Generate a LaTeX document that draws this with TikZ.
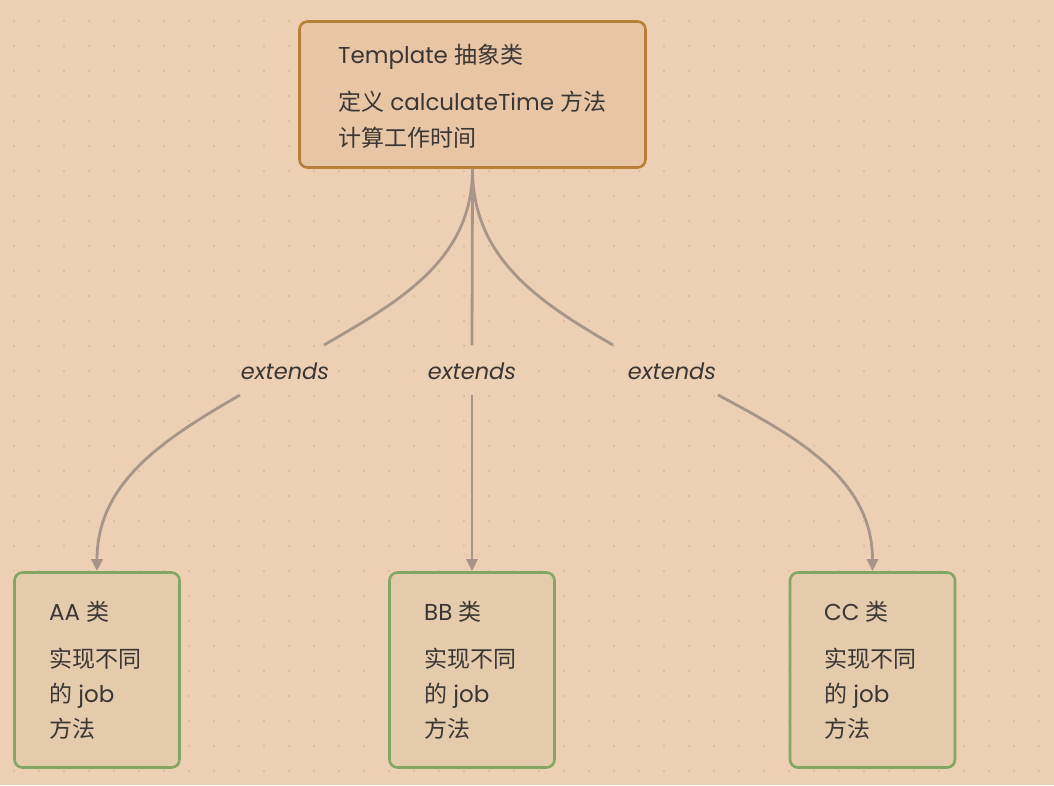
\documentclass[tikz,border=0pt]{standalone}
\usepackage{fontspec}
\setmainfont{Noto Sans CJK SC}
\newfontfamily\lat{Poppins}
\usetikzlibrary{arrows.meta}
\definecolor{bg}{HTML}{EDCFB3}
\definecolor{dotc}{HTML}{DDBDA2}
\definecolor{topfill}{HTML}{E8C5A5}
\definecolor{topdraw}{HTML}{B7803A}
\definecolor{botfill}{HTML}{E3CBAB}
\definecolor{botdraw}{HTML}{83A664}
\definecolor{linec}{HTML}{A8958A}
\definecolor{txt}{HTML}{3A3634}
\tikzset{
  topbox/.style={draw=topdraw, fill=topfill, line width=2.6pt, rounded corners=8pt, inner sep=0pt},
  botbox/.style={draw=botdraw, fill=botfill, line width=2.6pt, rounded corners=8pt, inner sep=0pt},
  txtline/.style={anchor=base west, inner sep=0pt, text=txt, font=\fontsize{23}{27}\selectfont},
  extlabel/.style={inner sep=0pt, text=txt, font=\lat\itshape\fontsize{22.5}{26}\selectfont},
  conn/.style={draw=linec, line width=2.8pt},
  arr/.style={conn, -{Triangle[length=12pt,width=11pt]}},
}
\begin{document}
\begin{tikzpicture}[x=1pt,y=-1pt]
\fill[bg] (0,0) rectangle (1054,785);
\useasboundingbox (0,0) rectangle (1054,785);
\foreach \i in {0,...,41}{
  \foreach \j in {0,...,30}{
    \fill[dotc] ({14+25*\i-1},{21+25*\j-1}) rectangle ++(2,2);
  }
}
% boxes
\node[topbox, minimum width=346pt, minimum height=146pt] (top) at (472.5,94.5) {};
\node[botbox, minimum width=165pt, minimum height=195pt] (aa) at (97,670) {};
\node[botbox, minimum width=165pt, minimum height=195pt] (bb) at (472,670) {};
\node[botbox, minimum width=165pt, minimum height=195pt] (cc) at (872.5,670) {};
% top text
\node[txtline] (t1) at (338,63) {{\lat Template }抽象类};
\node[txtline] (t2) at (338,110) {定义{\lat\ calculateTime }方法};
\node[txtline] (t3) at (338,146) {计算工作时间};
% bottom text
\foreach \n/\l/\x in {aa/AA/49, bb/BB/424, cc/CC/824}{
  \node[txtline] (\n1) at (\x,620) {{\lat \l\ }类};
  \node[txtline] (\n2) at (\x,667) {实现不同};
  \node[txtline] (\n3) at (\x,702) {的{\lat\ job}};
  \node[txtline] (\n4) at (\x,737) {方法};
}
% labels
\node[extlabel] (l1) at (285,371) {extends};
\node[extlabel] (l2) at (472,371) {extends};
\node[extlabel] (l3) at (672,371) {extends};
\coordinate (l1a) at (324,345);
\coordinate (l1b) at (240,395);
\coordinate (l2a) at (472,345);
\coordinate (l2b) at (472,395);
\coordinate (l3a) at (613,345);
\coordinate (l3b) at (718,395);
% connectors
\draw[conn] (top.south) to[out=-90,in=30] (l1a);
\draw[arr] (l1b) to[out=210,in=90] (aa.north);
\draw[conn] (top.south) -- (l2a);
\draw[arr] (l2b) -- (bb.north);
\draw[conn] (top.south) to[out=-90,in=150] (l3a);
\draw[arr] (l3b) to[out=-28,in=90] (cc.north);
\end{tikzpicture}
\end{document}
